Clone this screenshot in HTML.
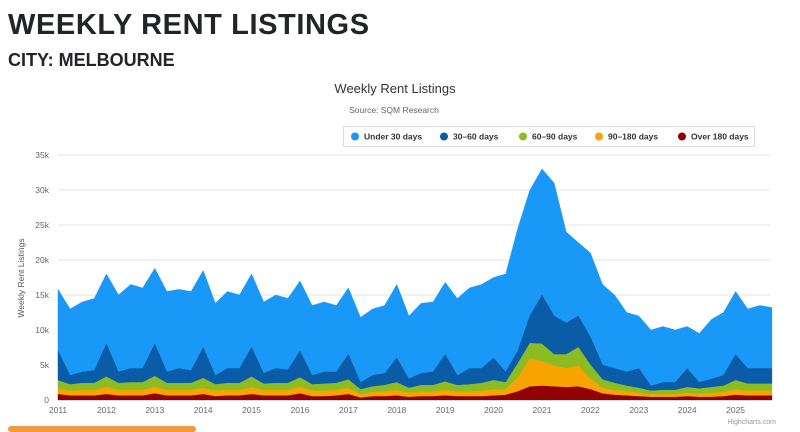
<!DOCTYPE html>
<html><head><meta charset="utf-8"><style>
body{margin:0;width:800px;height:430px;background:#fff;overflow:hidden;font-family:"Liberation Sans",sans-serif;position:relative}
#t1{position:absolute;left:8px;top:9px;font-size:29px;font-weight:bold;color:#222428;letter-spacing:0.6px;white-space:nowrap}
#t2{position:absolute;left:8px;top:50px;font-size:18px;font-weight:bold;color:#222428;white-space:nowrap}
#bar{position:absolute;left:8px;top:426px;width:188px;height:6px;background:#f39a3b;border-radius:3px}
</style></head><body>
<div id="t1">WEEKLY RENT LISTINGS</div>
<div id="t2">CITY: MELBOURNE</div>
<svg id="chart" width="800" height="430" style="position:absolute;left:0;top:0"></svg>
<div id="bar"></div>
<script>
const years=[2011,2012,2013,2014,2015,2016,2017,2018,2019,2020,2021,2022,2023,2024,2025];
const yTicks=[0,5,10,15,20,25,30,35];
const seriesNames=["Under 30 days","30-60 days","60-90 days","90-180 days","Over 180 days"];
const colors=["#1a98f8","#0b5ca6","#8bbc21","#f7a300","#930000"];
const startYear=2011, step=0.25;
const under30=[8.8,9.5,10,10.3,10,11,12,11.5,10.8,11.5,11.3,11.3,11,10.3,11,10.5,10.5,10.2,10.5,10.2,10,10,10,9.5,9.5,9.3,9.5,9.7,10.5,9,10,10,10.3,11,11.5,12,11.5,14,17.5,18,18,19,13,10.5,12,11.5,10.5,8.5,7.5,8,8,7.5,6,7,8.5,9,9,8.5,9,8.7];
const d30to60=[4.2,1.3,1.6,1.8,4.7,1.6,2,2,4.6,1.6,2.1,1.8,4.4,1.3,2.1,2.1,4.2,1.5,2.1,1.9,3.8,1.3,1.7,1.6,3.6,1,1.6,1.7,3.5,1.3,1.7,1.9,3.9,1.4,2.3,2.1,3.2,1.5,1.8,3.9,7,5.5,4.5,4.5,4,2.1,2.1,2,2.8,0.7,1.1,1.1,2.7,0.9,1.2,1.5,3.7,2.2,2.2,2.2];
const d60to90=[1.2,0.9,1,1,1.5,1,1.1,1.1,1.5,1,1,1,1.4,0.9,1,1,1.5,0.9,1,1,1.3,0.9,1,1,1.2,0.7,0.8,0.9,1.1,0.7,0.9,0.9,1.2,0.9,1,1.1,1.3,1,2,2.2,2.5,1.6,2,2.6,2,1.2,1,0.8,0.7,0.5,0.6,0.6,0.8,0.7,0.8,0.9,1.3,1,1,1];
const d90to180=[0.8,0.7,0.8,0.8,1,0.8,0.8,0.8,1,0.8,0.8,0.8,0.9,0.8,0.8,0.8,1,0.8,0.8,0.8,1,0.8,0.8,0.8,0.9,0.5,0.6,0.7,0.8,0.6,0.7,0.7,0.8,0.7,0.7,0.8,0.9,0.8,2,4,3.5,3,2.7,3,1.5,0.8,0.7,0.6,0.5,0.4,0.4,0.4,0.5,0.5,0.6,0.6,0.8,0.7,0.7,0.7];
const over180=[0.8,0.6,0.6,0.6,0.8,0.6,0.6,0.6,0.9,0.6,0.6,0.6,0.8,0.5,0.6,0.6,0.8,0.6,0.6,0.6,0.9,0.5,0.5,0.6,0.8,0.3,0.5,0.5,0.6,0.4,0.5,0.5,0.6,0.5,0.5,0.5,0.6,0.7,1.2,1.9,2,1.9,1.8,1.9,1.5,0.9,0.7,0.6,0.5,0.4,0.4,0.4,0.5,0.4,0.4,0.5,0.7,0.6,0.6,0.6];

const NS="http://www.w3.org/2000/svg";
const svg=document.getElementById('chart');
const X0=58,X1=770,Y0=400,Y1=155;
const xs=t=>X0+(t-2011)*48.4;
const ys=v=>Y0-(v/35)*(Y0-Y1);
function mk(tag,attrs,parent){const e=document.createElementNS(NS,tag);for(const k in attrs)e.setAttribute(k,attrs[k]);(parent||svg).appendChild(e);return e;}
function txt(s,attrs){const e=mk('text',attrs);e.textContent=s;return e;}

// grid + y labels
yTicks.forEach(v=>{
  if(v>0){const g=mk('line',{x1:X0,x2:X1,y1:ys(v),y2:ys(v),stroke:'#e6e6e6','stroke-width':1});
  
  }
  const t=txt(v===0?'0':v+'k',{x:49,y:ys(v)+3,'text-anchor':'end','font-size':8.5,fill:'#666'});
  
  
});
const yt=txt('Weekly Rent Listings',{x:0,y:0,'font-size':8.5,fill:'#555','text-anchor':'middle',transform:'translate(24,278) rotate(-90)'});



// stacked areas
const layers=[over180,d90to180,d60to90,d30to60,under30];
const layerNames=['area-over-180','area-90-180','area-60-90','area-30-60','area-under-30'];
const layerColors=[colors[4],colors[3],colors[2],colors[1],colors[0]];
const n=under30.length;
let base=new Array(n).fill(0);
const paths=[];
layers.forEach((arr,li)=>{
  const top=base.map((b,i)=>b+arr[i]);
  let d='';
  for(let i=0;i<n;i++){d+=(i?'L':'M')+xs(startYear+i*step).toFixed(1)+','+ys(top[i]).toFixed(1);}
  for(let i=n-1;i>=0;i--){d+='L'+xs(startYear+i*step).toFixed(1)+','+ys(base[i]).toFixed(1);}
  d+='Z';
  paths.push({d,color:layerColors[li],name:layerNames[li]});
  base=top;
});
paths.reverse().forEach(p=>{
  const e=mk('path',{d:p.d,fill:p.color,stroke:p.color,'stroke-width':0.5});
  
  
});
// x axis
const ax=mk('line',{x1:X0,x2:X1,y1:Y0+0.5,y2:Y0+0.5,stroke:'#ccd6eb','stroke-width':1});


years.forEach(yr=>{
  const t=txt(String(yr),{x:xs(yr),y:413,'text-anchor':'middle','font-size':8.5,fill:'#666'});
  
  
});
// titles
const ct=txt('Weekly Rent Listings',{x:395,y:93,'text-anchor':'middle','font-size':13,fill:'#333'});


const cs=txt('Source: SQM Research',{x:394,y:113,'text-anchor':'middle','font-size':8.5,fill:'#666'});


const hc=txt('Highcharts.com',{x:776,y:424,'text-anchor':'end','font-size':7,fill:'#999'});


// legend
const lb=mk('rect',{x:343.5,y:126.5,width:411,height:20,fill:'#fff',stroke:'#ddd'});


const lx=[355,444,523,599,682];
seriesNames.forEach((s,i)=>{
  const g=mk('g',{});
  
  
  mk('circle',{cx:lx[i],cy:136.5,r:4,fill:colors[i]},g);
  const t=document.createElementNS(NS,'text');
  t.setAttribute('x',lx[i]+9);t.setAttribute('y',139.5);t.setAttribute('font-size',8.5);t.setAttribute('font-weight','bold');t.setAttribute('fill','#333');
  t.textContent=s.replace('-','–');
  g.appendChild(t);
});
</script>
</body></html>
